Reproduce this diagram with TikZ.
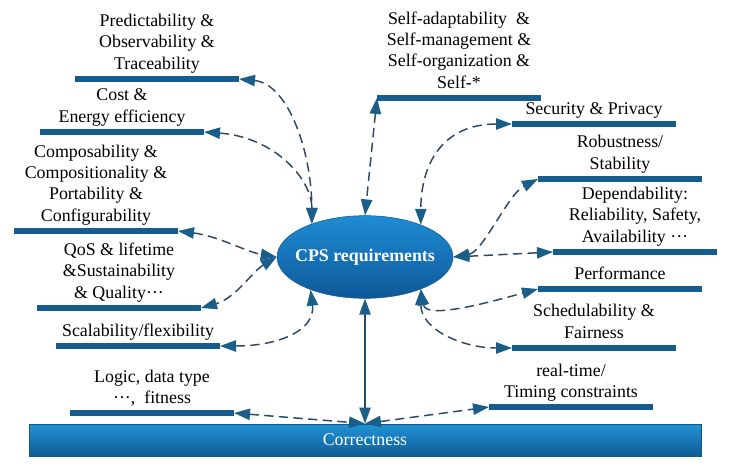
\documentclass[tikz,border=0pt]{standalone}
\usepackage{fontspec}
\setmainfont{Liberation Serif}
\usetikzlibrary{arrows.meta, positioning, shapes.geometric}
\definecolor{barblue}{RGB}{22,92,140}
\definecolor{linkgray}{RGB}{45,72,98}
\definecolor{headblue}{RGB}{26,94,138}
\definecolor{ellTop}{RGB}{30,140,212}
\definecolor{ellBot}{RGB}{14,88,152}
\definecolor{corrTop}{RGB}{34,148,214}
\definecolor{corrBot}{RGB}{14,92,150}
\definecolor{corrEdge}{RGB}{22,86,128}

\begin{document}
\begin{tikzpicture}[x=0.75pt, y=-0.75pt,
  font=\fontsize{13.4}{16}\selectfont,
  bar/.style={rectangle, fill=barblue, minimum width=123pt, minimum height=4.5pt, inner sep=0pt, outer sep=0pt, anchor=west},
  lbl/.style={align=center, inner sep=0pt, execute at end node=\strut},
  tip/.tip={Triangle[length=12pt, width=8.5pt, color=headblue]},
  link/.style={draw=linkgray, line width=1.1pt, dash pattern=on 7pt off 4pt, tip-tip},
  solidlink/.style={draw=linkgray, line width=1pt, tip-tip}]
\useasboundingbox (0,0) rectangle (732,470);

% Central node and base
\node[ellipse, minimum width=132pt, minimum height=62pt, inner xsep=-10pt, inner ysep=0pt, top color=ellTop, bottom color=ellBot, draw=ellBot, text=white, font=\fontsize{13.4}{16}\selectfont\bfseries] (req) at (365,257) {CPS requirements};
\node[rectangle, minimum width=504pt, minimum height=24pt, inner sep=0pt, top color=corrTop, bottom color=corrBot, draw=corrEdge, line width=0.6pt, text=white] (corr) at (365,440) {Correctness};

% Bars, left side
\node[bar] (bPred) at (75,79) {};
\node[bar] (bCost) at (40,132) {};
\node[bar] (bComp) at (14,231) {};
\node[bar] (bQos) at (37,308) {};
\node[bar] (bScal) at (56,346) {};
\node[bar] (bLogic) at (70,413) {};

% Bars, right side
\node[bar] (bSelf) at (377,98) {};
\node[bar] (bSec) at (512,124) {};
\node[bar] (bRob) at (538,179) {};
\node[bar] (bDep) at (553,252) {};
\node[bar] (bPerf) at (538,289) {};
\node[bar] (bSched) at (512,348) {};
\node[bar] (bRt) at (489,407) {};

% Labels
\node[lbl, above=0pt of bPred] (tPred) {Predictability \&\\Observability \&\\Traceability};
\node[lbl, above=0pt of bCost] (tCost) {Cost \&\\Energy efficiency};
\node[lbl, above=0pt of bComp] (tComp) {Composability \&\\Compositionality \&\\Portability \&\\Configurability};
\node[lbl, above=0pt of bQos] (tQos) {QoS \& lifetime\\\&Sustainability\\\& Quality···};
\node[lbl, above=0pt of bScal] (tScal) {Scalability/flexibility};
\node[lbl, above=0pt of bLogic] (tLogic) {Logic, data type\\···,\ \ fitness};
\node[lbl, above=0pt of bSelf] (tSelf) {Self-adaptability\ \ \&\\Self-management \&\\Self-organization \&\\Self-*};
\node[lbl, above=0pt of bSec] (tSec) {Security \& Privacy};
\node[lbl, above=0pt of bRob] (tRob) {Robustness/\\Stability};
\node[lbl, above=0pt of bDep] (tDep) {Dependability:\\Reliability, Safety,\\Availability ···};
\node[lbl, above=0pt of bPerf] (tPerf) {Performance};
\node[lbl, above=0pt of bSched] (tSched) {Schedulability \&\\Fairness};
\node[lbl, above=0pt of bRt] (tRt) {real-time/\\Timing constraints};

% Links
\draw[link] (bPred.east) .. controls +(50,5) and +(0,-70) .. (req.148);
\draw[link] (bCost.east) .. controls +(70,5) and +(0,-45) .. (req.148);
\draw[link] (bComp.east) .. controls +(40,5) and +(-30,-5) .. (req.west);
\draw[link] (req.west) .. controls +(-25,15) and +(35,-10) .. (bQos.east);
\draw[link] (bScal.east) .. controls +(60,0) and +(5,40) .. (req.211);
\draw[link] (bLogic.east) -- (corr.north);
\draw[link] (bSelf.west) -- (req.north);
\draw[link] (bSec.west) .. controls +(-70,0) and +(0,-60) .. (req.30);
\draw[link] (req.east) .. controls +(30,-5) and +(-30,15) .. (bRob.west);
\draw[link] (req.east) -- (bDep.west);
\draw[link] (req.-30) .. controls +(5,30) and +(-55,15) .. (bPerf.west);
\draw[link] (req.-30) .. controls +(0,40) and +(-50,0) .. (bSched.west);
\draw[link] (corr.north) -- (bRt.west);
\draw[solidlink] (req.south) -- (corr.north);

\end{tikzpicture}
\end{document}
